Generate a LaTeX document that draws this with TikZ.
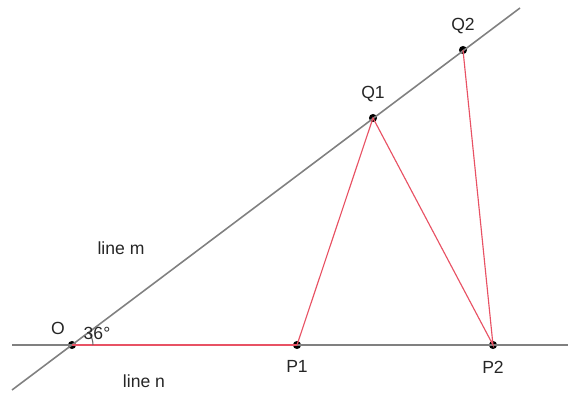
\documentclass[tikz,border=0pt]{standalone}
\usepackage{fontspec}
\setmainfont{Liberation Sans}
\usetikzlibrary{positioning}

\begin{document}
\begin{tikzpicture}[
x=0.02cm, y=-0.02cm,
every node/.style={font=\fontsize{10}{12}\selectfont, text=black!85},
dot/.style={
    circle,
    fill=black,
    inner sep=0pt,
    minimum size=4.6pt
},
axis/.style={
    draw=black!50,
    line width=0.9pt
},
redseg/.style={
    draw={rgb,255:red,232;green,82;blue,100},
    line width=0.65pt
}
]
\useasboundingbox (0,0) rectangle (568,394);

% the two lines
\coordinate (nL) at (12,345);
\coordinate (nR) at (568,345);
\coordinate (mL) at (12,390);
\coordinate (mR) at (520,8);

\node (O) [dot] at (72,345) {};
\node (P1) [dot] at (297,345) {};
\node (P2) [dot] at (493,345) {};
\node (Q1) [dot] at (373,118) {};
\node (Q2) [dot] at (463,50) {};

\draw [axis] (nL) -- (nR);
\draw [axis] (mL) -- (mR);

\draw [redseg] (O.center) -- (P1.center);
\draw [redseg] (P1.center) -- (Q1.center) -- (P2.center) -- (Q2.center);

% angle mark
\draw [black!60, line width=0.6pt] ([xshift=21*0.02cm]O.center) arc[start angle=0, end angle=37, radius=0.42cm];

\node (lO) at (58,328) {O};
\node (lang) at (97,333) {36°};
\node (lP1) [below=3pt of P1] {P1};
\node (lP2) [below=3pt of P2] {P2};
\node (lQ1) [above=3pt of Q1] {Q1};
\node (lQ2) [above=3pt of Q2] {Q2};
\node (lm) at (121,248) {line m};
\node (ln) at (144,381) {line n};

\end{tikzpicture}
\end{document}
